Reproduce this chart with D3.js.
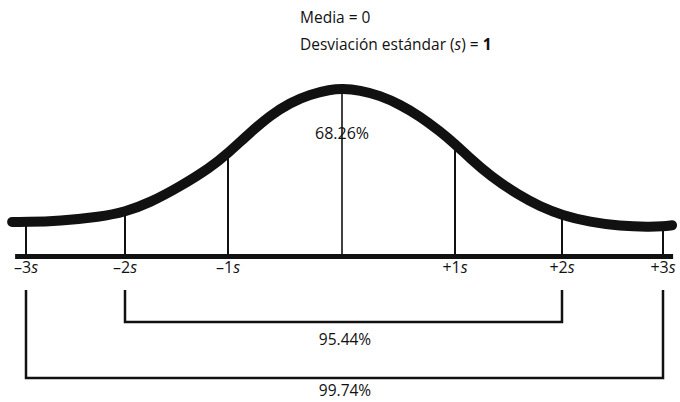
<!DOCTYPE html>
<html>
<head>
<meta charset="utf-8">
<script src="https://cdn.jsdelivr.net/npm/d3@7"></script>
<style>
  html, body { margin: 0; padding: 0; background: #fff; }
  svg { display: block; }
  text { font-family: "Open Sans", "Noto Sans", sans-serif; fill: #111; }
</style>
</head>
<body>
<svg id="chart" width="680" height="402"></svg>
<script>
// ---- data ----
const sigmaTicks = [-3, -2, -1, 0, 1, 2, 3];
const tickSigns = ["–3", "–2", "–1", "", "+1", "+2", "+3"];
// curve: position in sigma units, relative height (peak = 1)
const curveX = [-3.14, -3, -2.66, -2.25, -2, -1.76, -1.47, -1.17, -1, -0.81, -0.63, -0.456, -0.28, -0.105, 0,
                0.16, 0.336, 0.513, 0.69, 0.867, 1, 1.14, 1.327, 1.607, 1.79, 2, 2.28, 2.57, 2.87, 3, 3.09];
const curveY = [0.206, 0.205, 0.212, 0.236, 0.265, 0.320, 0.415, 0.530, 0.615, 0.735, 0.840, 0.915, 0.965, 0.993, 1.0,
                0.990, 0.958, 0.905, 0.835, 0.745, 0.670, 0.585, 0.480, 0.360, 0.300, 0.245, 0.205, 0.182, 0.176, 0.180, 0.186];
const axisExtent = [-3.11, 3.1];
const titleLines = ["Media = 0", "Desviación estándar (s) = 1"];
const centerLabel = "68.26%";
const brackets = [
  { from: -2, to: 2, label: "95.44%" },
  { from: -3, to: 3, label: "99.74%" }
];

// ---- layout ----
const svg = d3.select("#chart");
const axisY = 256.5;
const x = d3.scaleLinear().domain(sigmaTicks).range([26, 125, 228, 342, 455, 562, 663]);
const y = d3.scaleLinear().domain([0, 1]).range([axisY, 88.5]);

const pts = curveX.map((v, i) => [v, curveY[i]]);
const heightAt = s => curveY[curveX.indexOf(s)];

// vertical lines
svg.append("g").selectAll("line").data(sigmaTicks).join("line")
  .attr("x1", d => x(d)).attr("x2", d => x(d))
  .attr("y1", axisY).attr("y2", d => y(heightAt(d)))
  .attr("stroke", "#111").attr("stroke-width", d => d === 0 ? 1.6 : 2);

// axis baseline
svg.append("line")
  .attr("x1", x(axisExtent[0])).attr("x2", x(axisExtent[1]))
  .attr("y1", axisY).attr("y2", axisY)
  .attr("stroke", "#111").attr("stroke-width", 5);

// curve
const line = d3.line().x(d => x(d[0])).y(d => y(d[1])).curve(d3.curveBasis);
svg.append("path").datum(pts).attr("d", line)
  .attr("fill", "none").attr("stroke", "#111").attr("stroke-width", 10)
  .attr("stroke-linecap", "round").attr("stroke-linejoin", "round");

// tick labels
const tl = svg.append("g").selectAll("text").data(sigmaTicks.filter((d, i) => tickSigns[i] !== "")).join("text")
  .attr("x", d => x(d)).attr("y", 273)
  .attr("text-anchor", "middle").attr("font-size", 16);
tl.append("tspan").text(d => tickSigns[sigmaTicks.indexOf(d)]);
tl.append("tspan").attr("font-style", "italic").text("s");

// titles
svg.append("text").attr("x", 300).attr("y", 23).attr("font-size", 15.5).text(titleLines[0]);
const t2 = svg.append("text").attr("x", 300).attr("y", 50).attr("font-size", 15.5);
t2.append("tspan").text("Desviación estándar (");
t2.append("tspan").attr("font-style", "italic").text("s");
t2.append("tspan").text(") = ");
t2.append("tspan").attr("font-weight", "bold").text("1");

// center label
svg.append("text").attr("x", x(0)).attr("y", 139).attr("text-anchor", "middle")
  .attr("font-size", 16).text(centerLabel);

// brackets
const bTop = 290;
const bLineY = [322, 378];
const bTextY = [345, 396];
brackets.forEach((b, i) => {
  const g = svg.append("g");
  const path = d3.path();
  path.moveTo(x(b.from), bTop);
  path.lineTo(x(b.from), bLineY[i]);
  path.lineTo(x(b.to), bLineY[i]);
  path.lineTo(x(b.to), bTop);
  g.append("path").attr("d", path.toString()).attr("fill", "none")
    .attr("stroke", "#111").attr("stroke-width", 2.5);
  g.append("text").attr("x", x(0) + 3).attr("y", bTextY[i]).attr("text-anchor", "middle")
    .attr("font-size", 15.5).text(b.label);
});
</script>
</body>
</html>
